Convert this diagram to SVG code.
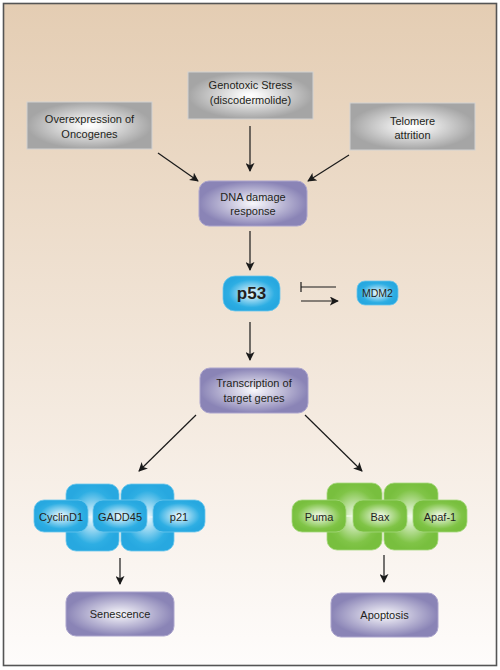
<svg xmlns="http://www.w3.org/2000/svg" width="500" height="670" viewBox="0 0 500 670">
<defs>
<linearGradient id="bg" x1="0" y1="0" x2="0" y2="1">
<stop offset="0" stop-color="#e4cdb3"/>
<stop offset="1" stop-color="#fefcfb"/>
</linearGradient>
<radialGradient id="gGray"><stop offset="0" stop-color="#ffffff"/><stop offset="0.15" stop-color="#f6f6f6"/><stop offset="1" stop-color="#a5a5a5"/></radialGradient>
<radialGradient id="gPurple"><stop offset="0" stop-color="#f8f7fb"/><stop offset="0.1" stop-color="#eeedf5"/><stop offset="1" stop-color="#8a84b6"/></radialGradient>
<radialGradient id="gBlue"><stop offset="0" stop-color="#f2fafe"/><stop offset="0.8" stop-color="#2eaee3"/><stop offset="1" stop-color="#27a8e0"/></radialGradient>
<radialGradient id="gGreen"><stop offset="0" stop-color="#f5fbef"/><stop offset="0.8" stop-color="#80c447"/><stop offset="1" stop-color="#78bf3e"/></radialGradient>
<marker id="arr" viewBox="0 0 10 10" refX="9" refY="5" markerWidth="9" markerHeight="9" markerUnits="userSpaceOnUse" orient="auto">
<path d="M0,0 L10,5 L0,10 L2.5,5 Z" fill="#1a1a1a"/>
</marker>
<style>
.t{font-family:"Liberation Sans",Arial,sans-serif;font-size:11px;fill:#231f20;text-anchor:middle}
.gray{fill:url(#gGray);stroke:#d2d2d2;stroke-width:1}
.pur{fill:url(#gPurple);stroke:#aca5cd;stroke-width:1}
.blue{fill:url(#gBlue);stroke:#6cc6ec;stroke-width:0.8}
.green{fill:url(#gGreen);stroke:#a6d87e;stroke-width:0.8}
.ln{stroke:#1a1a1a;stroke-width:1.2;fill:none}
.lnk{stroke:#e8f6fc;stroke-width:1.5}
.lnkg{stroke:#eef8e6;stroke-width:1.5}
</style>
</defs>
<rect x="0" y="0" width="500" height="670" fill="#ffffff"/>
<rect x="3.5" y="3.5" width="493" height="662" fill="url(#bg)" stroke="#555555" stroke-width="1.6"/>

<g id="connectors">
<line class="ln" x1="158" y1="153" x2="198" y2="181" marker-end="url(#arr)"/>
<line class="ln" x1="250" y1="126" x2="250" y2="171" marker-end="url(#arr)"/>
<line class="ln" x1="349" y1="155" x2="308" y2="181" marker-end="url(#arr)"/>
<line class="ln" x1="250" y1="231" x2="250" y2="270" marker-end="url(#arr)"/>
<line class="ln" x1="301" y1="287" x2="336" y2="287"/>
<line class="ln" x1="301" y1="282" x2="301" y2="292"/>
<line class="ln" x1="301" y1="301" x2="338" y2="301" marker-end="url(#arr)"/>
<line class="ln" x1="250" y1="322" x2="250" y2="360" marker-end="url(#arr)"/>
<line class="ln" x1="196" y1="415" x2="139" y2="471" marker-end="url(#arr)"/>
<line class="ln" x1="305" y1="415" x2="362" y2="471" marker-end="url(#arr)"/>
<line class="ln" x1="120" y1="558" x2="120" y2="584" marker-end="url(#arr)"/>
<line class="ln" x1="384" y1="555" x2="384" y2="582" marker-end="url(#arr)"/>
</g>

<g id="overexpression">
<rect class="gray" x="27" y="102" width="125" height="47"/>
<text class="t" x="89.5" y="123">Overexpression of</text>
<text class="t" x="89.5" y="138">Oncogenes</text>
</g>
<g id="genotoxic">
<rect class="gray" x="188" y="72" width="125" height="47"/>
<text class="t" x="250.5" y="89">Genotoxic Stress</text>
<text class="t" x="250.5" y="104">(discodermolide)</text>
</g>
<g id="telomere">
<rect class="gray" x="350" y="103" width="125" height="47"/>
<text class="t" x="412.5" y="125">Telomere</text>
<text class="t" x="412.5" y="139">attrition</text>
</g>
<g id="dna">
<rect class="pur" x="199" y="181" width="108" height="45" rx="10"/>
<text class="t" x="253" y="201">DNA damage</text>
<text class="t" x="253" y="215">response</text>
</g>
<g id="p53">
<rect class="blue" x="223" y="276" width="57" height="35" rx="12"/>
<text class="t" x="251.5" y="299" style="font-size:17px;font-weight:bold">p53</text>
</g>
<g id="mdm2">
<rect class="blue" x="357" y="281" width="41" height="24" rx="8"/>
<text class="t" x="377.5" y="297" style="font-size:10.5px">MDM2</text>
</g>
<g id="transcription">
<rect class="pur" x="200" y="368" width="108" height="45" rx="10"/>
<text class="t" x="254" y="387">Transcription of</text>
<text class="t" x="254" y="402">target genes</text>
</g>

<g id="senescence-complex">
<rect class="blue" x="66" y="484" width="53" height="67" rx="10"/>
<rect class="blue" x="121" y="484" width="53" height="67" rx="10"/>
<line class="lnk" x1="87" y1="517" x2="94" y2="517"/>
<line class="lnk" x1="146" y1="517" x2="154" y2="517"/>
</g>
<g id="cyclind1">
<rect class="blue" x="34" y="500" width="54" height="32" rx="10"/>
<text class="t" x="61" y="521">CyclinD1</text>
</g>
<g id="gadd45">
<rect class="blue" x="93" y="500" width="54" height="32" rx="10"/>
<text class="t" x="120" y="521">GADD45</text>
</g>
<g id="p21">
<rect class="blue" x="153" y="500" width="52" height="32" rx="10"/>
<text class="t" x="179" y="521">p21</text>
</g>
<g id="senescence">
<rect class="pur" x="66" y="592" width="108" height="44" rx="10"/>
<text class="t" x="120" y="618">Senescence</text>
</g>

<g id="apoptosis-complex">
<rect class="green" x="327" y="483" width="55" height="67" rx="10"/>
<rect class="green" x="384" y="483" width="54" height="67" rx="10"/>
<line class="lnkg" x1="345" y1="516" x2="354" y2="516"/>
<line class="lnkg" x1="406" y1="516" x2="414" y2="516"/>
</g>
<g id="puma">
<rect class="green" x="292" y="500" width="54" height="32" rx="10"/>
<text class="t" x="319" y="521">Puma</text>
</g>
<g id="bax">
<rect class="green" x="353" y="500" width="54" height="32" rx="10"/>
<text class="t" x="380" y="521">Bax</text>
</g>
<g id="apaf1">
<rect class="green" x="413" y="500" width="54" height="32" rx="10"/>
<text class="t" x="440" y="521">Apaf-1</text>
</g>
<g id="apoptosis">
<rect class="pur" x="331" y="593" width="107" height="44" rx="10"/>
<text class="t" x="384.5" y="619">Apoptosis</text>
</g>
</svg>
